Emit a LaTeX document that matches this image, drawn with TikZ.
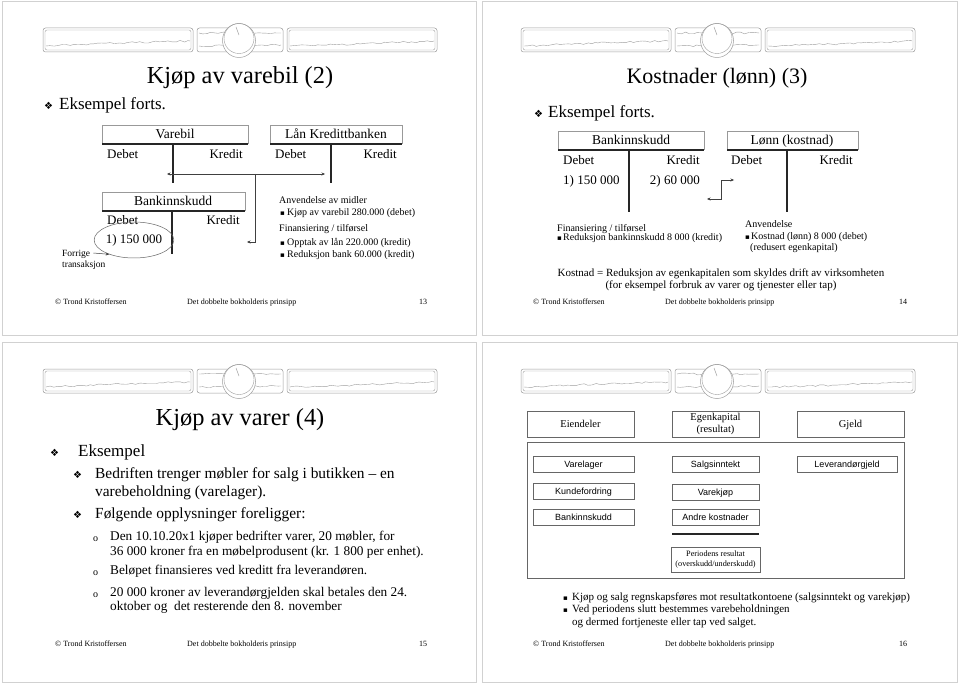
\documentclass[tikz,border=0pt]{standalone}
\usepackage{fontspec}
\setmainfont{Liberation Serif}
\newfontfamily\sansf{Liberation Sans}
\newfontfamily\dvf{DejaVu Sans}
\usetikzlibrary{decorations.pathmorphing,arrows.meta,shapes.geometric}
\newcommand\myfs[1]{\fontsize{#1}{#1}\selectfont}
\newcommand\dia{{\dvf\myfs{10}❖}}
\newcommand\sqb{{\dvf\myfs{7}▪}}
\definecolor{bandc}{gray}{0.62}
\definecolor{framec}{gray}{0.82}
\tikzset{
  tl/.style={anchor=west,inner sep=0pt,text height=0.75em,text depth=0.05em},
  tr/.style={anchor=east,inner sep=0pt,text height=0.75em,text depth=0.05em},
  tc/.style={inner sep=0pt,text height=0.75em,text depth=0.05em},
  tbox/.style={draw=black!40,line width=0.5pt},
  tbar/.style={draw=black!85,line width=1.6pt},
  arr/.style={draw=black!75,line width=0.5pt,-{Stealth[length=3.5pt,width=3pt]}},
  darr/.style={draw=black!75,line width=0.5pt,{Stealth[length=3.5pt,width=3pt]}-{Stealth[length=3.5pt,width=3pt]}},
  bx/.style={draw=black!60,line width=0.6pt,inner sep=0pt,align=center},
  bx1/.style={bx,text height=0.72em,text depth=0.12em},
  wavy/.style={draw=bandc,line width=0.4pt,decorate,decoration={random steps,segment length=4pt,amplitude=0.9pt}},
  band/.pic={
    \draw[bandc,line width=0.5pt,rounded corners=2.5pt] (43,28) rectangle (193,52);
    \draw[bandc,line width=0.4pt,rounded corners=2pt] (45,30) rectangle (191,50);
    \draw[wavy] (46,46) -- (120,43) -- (190,41);
    \draw[bandc,line width=0.5pt,rounded corners=2.5pt] (197,28) rectangle (283,52);
    \draw[wavy] (199,33) -- (281,33);
    \draw[wavy] (199,46) -- (281,45);
    \draw[bandc,line width=0.5pt,rounded corners=2.5pt] (287,28) rectangle (437,52);
    \draw[bandc,line width=0.4pt,rounded corners=2pt] (289,30) rectangle (435,50);
    \draw[wavy] (290,46) -- (360,44) -- (434,41);
    \filldraw[fill=white,draw=bandc,line width=0.5pt] (239,40.5) ellipse [x radius=16.5,y radius=17];
    \draw[bandc,line width=0.4pt] (239,38.5) circle (15);
    \draw[bandc,line width=0.5pt] (236,27) -- (239,35);
  }
}
\begin{document}
\begin{tikzpicture}[x=1pt,y=-1pt]
\pgfmathsetseed{7}
\useasboundingbox (0,0) rectangle (960,684);
\fill[white] (0,0) rectangle (960,684);
% panel frames
\draw[framec,line width=0.8pt] (2,1) rectangle (476,335);
\draw[framec,line width=0.8pt] (482,1) rectangle (957,335);
\draw[framec,line width=0.8pt] (2,342) rectangle (476,682);
\draw[framec,line width=0.8pt] (482,342) rectangle (957,682);
% header bands
\pic at (0,0) {band};
\pic at (478,0) {band};
\pic at (0,341) {band};
\pic at (478,341) {band};

% ================= Panel 1 =================
\node[tc,font=\myfs{24.4}] (p1title) at (240,80) {Kjøp av varebil (2)};
\node[tl] (p1b) at (44,106) {\dia};
\node[tl,font=\myfs{17}] (p1eks) at (59,106) {Eksempel forts.};
% Varebil
\draw[tbox] (102,144) |- (248,125) -- (248,144);
\draw[tbar] (102,144) -- (248,144);
\draw[tbar] (173,144) -- (173,183);
\node[tc,font=\myfs{13.5}] (vbt) at (175,135) {Varebil};
\node[tl,font=\myfs{13}] (vbd) at (107,155) {Debet};
\node[tr,font=\myfs{13}] (vbk) at (243,155) {Kredit};
% Lån Kredittbanken
\draw[tbox] (270,144) |- (402,125) -- (402,144);
\draw[tbar] (270,144) -- (402,144);
\draw[tbar] (331,144) -- (331,183);
\node[tc,font=\myfs{13.5}] (lkt) at (336,135) {Lån Kredittbanken};
\node[tl,font=\myfs{13}] (lkd) at (275,155) {Debet};
\node[tr,font=\myfs{13}] (lkk) at (397,155) {Kredit};
% Bankinnskudd
\draw[tbox] (102,211) |- (245,192) -- (245,211);
\draw[tbar] (102,211) -- (245,211);
\draw[tbar] (172,211) -- (172,254);
\node[tc,font=\myfs{13.5}] (bkt) at (173,202) {Bankinnskudd};
\node[tl,font=\myfs{13}] (bkd) at (107,221) {Debet};
\node[tr,font=\myfs{13}] (bkk) at (240,221) {Kredit};
\node[ellipse,draw=black!60,line width=0.5pt,minimum width=72pt,minimum height=36pt,inner sep=0pt,font=\myfs{13}] (e1) at (134,240) {1) 150 000};
\node[tl,font=\myfs{9.5}] (fr1) at (62,253) {Forrige};
\node[tl,font=\myfs{9.5}] (fr2) at (62,264) {transaksjon};
\draw[arr] ([xshift=3pt]fr1.east) -- (e1.-150);
% connectors
\coordinate (j1) at (255,174);
\coordinate (a1l) at (167,174);
\coordinate (a1r) at (325,174);
\coordinate (a1b) at (247,242);
\draw[arr] (j1) -- (a1l);
\draw[arr] (j1) -- (a1r);
\draw[arr] (j1) |- (a1b);
% right text
\node[tl,font=\myfs{10}] (an1) at (279,200) {Anvendelse av midler};
\node[tl] (an1b) at (280,212) {\sqb};
\node[tl,font=\myfs{10}] (an1t) at (287,212) {Kjøp av varebil 280.000 (debet)};
\node[tl,font=\myfs{10}] (fi1) at (279,228) {Finansiering / tilførsel};
\node[tl] (fi1b) at (280,242) {\sqb};
\node[tl,font=\myfs{10}] (fi1t) at (287,242) {Opptak av lån 220.000 (kredit)};
\node[tl] (fi2b) at (280,254) {\sqb};
\node[tl,font=\myfs{10}] (fi2t) at (287,254) {Reduksjon bank 60.000 (kredit)};
% footer
\node[tl,font=\myfs{8}] (f1a) at (55,301) {© Trond Kristoffersen};
\node[tl,font=\myfs{8}] (f1b) at (187,301) {Det dobbelte bokholderis prinsipp};
\node[tl,font=\myfs{8}] (f1c) at (419,301) {13};

% ================= Panel 2 =================
\node[tc,font=\myfs{22}] (p2title) at (717,80) {Kostnader (lønn) (3)};
\node[tl] (p2b) at (534,114) {\dia};
\node[tl,font=\myfs{17}] (p2eks) at (548,114) {Eksempel forts.};
% Bankinnskudd
\draw[tbox] (558,150) |- (704,131) -- (704,150);
\draw[tbar] (558,150) -- (704,150);
\draw[tbar] (629,150) -- (629,212);
\node[tc,font=\myfs{13.5}] (b2t) at (631,141) {Bankinnskudd};
\node[tl,font=\myfs{13}] (b2d) at (563,161) {Debet};
\node[tr,font=\myfs{13}] (b2k) at (700,161) {Kredit};
\node[tl,font=\myfs{13}] (b2v1) at (563,181) {1) 150 000};
\node[tr,font=\myfs{13}] (b2v2) at (700,181) {2) 60 000};
% Lønn
\draw[tbox] (727,150) |- (858,131) -- (858,150);
\draw[tbar] (727,150) -- (858,150);
\draw[tbar] (787,150) -- (787,212);
\node[tc,font=\myfs{13.5}] (l2t) at (792,141) {Lønn (kostnad)};
\node[tl,font=\myfs{13}] (l2d) at (731,161) {Debet};
\node[tr,font=\myfs{13}] (l2k) at (853,161) {Kredit};
% connector
\coordinate (c2a) at (707,199);
\coordinate (c2b) at (734,180);
\draw[darr] (c2a) -- ++(14,0) |- (c2b);
% texts
\node[tl,font=\myfs{10}] (fi3) at (557,228) {Finansiering / tilførsel};
\node[tl] (fi3b) at (557,237) {\sqb};
\node[tl,font=\myfs{10}] (fi3t) at (563,237) {Reduksjon bankinnskudd 8 000 (kredit)};
\node[tl,font=\myfs{10}] (an2) at (745,224) {Anvendelse};
\node[tl] (an2b) at (745,236) {\sqb};
\node[tl,font=\myfs{10}] (an2t) at (751,236) {Kostnad (lønn) 8 000 (debet)};
\node[tl,font=\myfs{10}] (an2u) at (750,247) {(redusert egenkapital)};
\node[tc,font=\myfs{11}] (k2a) at (721,273) {Kostnad = Reduksjon av egenkapitalen som skyldes drift av virksomheten};
\node[tc,font=\myfs{11}] (k2b) at (721,285) {(for eksempel forbruk av varer og tjenester eller tap)};
\node[tl,font=\myfs{8}] (f2a) at (533,301) {© Trond Kristoffersen};
\node[tl,font=\myfs{8}] (f2b) at (665,301) {Det dobbelte bokholderis prinsipp};
\node[tl,font=\myfs{8}] (f2c) at (899,301) {14};

% ================= Panel 3 =================
\node[tc,font=\myfs{24.4}] (p3title) at (240,422) {Kjøp av varer (4)};
\node[tl] (p3b0) at (50,453) {\dia};
\node[tl,font=\myfs{17}] (p3eks) at (78,453) {Eksempel};
\node[tl] (p3b1) at (73,475) {\dia};
\node[tl,font=\myfs{15.4}] (p3l1) at (95,475) {Bedriften trenger møbler for salg i butikken – en};
\node[tl,font=\myfs{15.4}] (p3l2) at (95,493) {varebeholdning (varelager).};
\node[tl] (p3b2) at (73,515) {\dia};
\node[tl,font=\myfs{15.4}] (p3l3) at (95,515) {Følgende opplysninger foreligger:};
\node[tl,font=\myfs{10}] (p3o1) at (93,538) {o};
\node[tl,font=\myfs{13.3}] (p3s1) at (110,537) {Den 10.10.20x1 kjøper bedrifter varer, 20 møbler, for};
\node[tl,font=\myfs{13.3}] (p3s1b) at (110,552) {36 000 kroner fra en møbelprodusent (kr. 1 800 per enhet).};
\node[tl,font=\myfs{10}] (p3o2) at (93,572) {o};
\node[tl,font=\myfs{13.3}] (p3s2) at (110,571) {Beløpet finansieres ved kreditt fra leverandøren.};
\node[tl,font=\myfs{10}] (p3o3) at (93,594) {o};
\node[tl,font=\myfs{13.3}] (p3s3) at (110,593) {20 000 kroner av leverandørgjelden skal betales den 24.};
\node[tl,font=\myfs{13.3}] (p3s3b) at (110,607) {oktober og\ \ det resterende den 8. november};
\node[tl,font=\myfs{8}] (f3a) at (55,643) {© Trond Kristoffersen};
\node[tl,font=\myfs{8}] (f3b) at (187,643) {Det dobbelte bokholderis prinsipp};
\node[tl,font=\myfs{8}] (f3c) at (419,643) {15};

% ================= Panel 4 =================
\node[bx1,minimum width=107pt,minimum height=26pt,font=\myfs{10.5}] (eie) at (580.5,424) {Eiendeler};
\node[bx,minimum width=87pt,minimum height=26pt,font=\myfs{10.5}] (egk) at (715.5,424) {Egenkapital\\[2pt](resultat)};
\node[bx1,minimum width=107pt,minimum height=26pt,font=\myfs{10.5}] (gje) at (850.5,424) {Gjeld};
\draw[draw=black!60,line width=0.6pt] (527,442) rectangle (904,578);
\node[bx1,minimum width=101pt,minimum height=16pt,font=\sansf\myfs{9}] (vl) at (583.5,464) {Varelager};
\node[bx1,minimum width=87pt,minimum height=16pt,font=\sansf\myfs{9}] (si) at (715.5,464) {Salgsinntekt};
\node[bx1,minimum width=100pt,minimum height=16pt,font=\sansf\myfs{9}] (lg) at (847,464) {Leverandørgjeld};
\node[bx1,minimum width=101pt,minimum height=16pt,font=\sansf\myfs{9}] (kf) at (583.5,491) {Kundefordring};
\node[bx1,minimum width=87pt,minimum height=16pt,font=\sansf\myfs{9}] (vk) at (715.5,492) {Varekjøp};
\node[bx1,minimum width=101pt,minimum height=16pt,font=\sansf\myfs{9}] (bi) at (583.5,517) {Bankinnskudd};
\node[bx1,minimum width=87pt,minimum height=16pt,font=\sansf\myfs{9}] (ak) at (715.5,517) {Andre kostnader};
\draw[black!85,line width=1.5pt] (672,534) -- (759,534);
\node[bx,minimum width=89pt,minimum height=25pt,font=\myfs{8.2}] (pr) at (715.5,559.5) {Periodens resultat\\[1pt](overskudd/underskudd)};
\node[tl] (p4b1) at (563,597) {\sqb};
\node[tl,font=\myfs{11}] (p4l1) at (572,597) {Kjøp og salg regnskapsføres mot resultatkontoene (salgsinntekt og varekjøp)};
\node[tl] (p4b2) at (563,609) {\sqb};
\node[tl,font=\myfs{11}] (p4l2) at (572,609) {Ved periodens slutt bestemmes varebeholdningen};
\node[tl,font=\myfs{11}] (p4l3) at (572,622) {og dermed fortjeneste eller tap ved salget.};
\node[tl,font=\myfs{8}] (f4a) at (533,643) {© Trond Kristoffersen};
\node[tl,font=\myfs{8}] (f4b) at (665,643) {Det dobbelte bokholderis prinsipp};
\node[tl,font=\myfs{8}] (f4c) at (899,643) {16};
\end{tikzpicture}
\end{document}
